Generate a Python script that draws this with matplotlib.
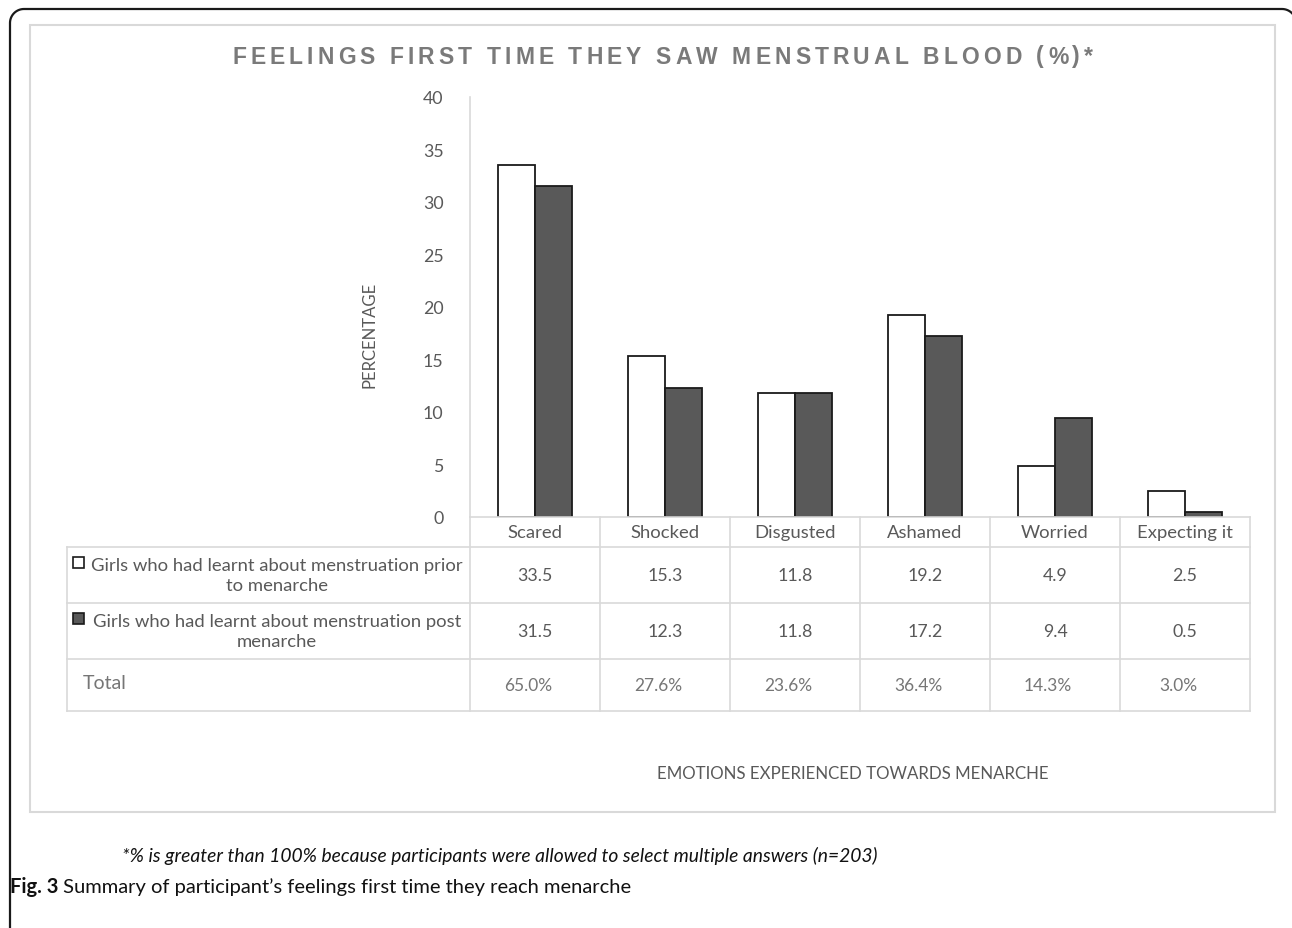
import matplotlib
matplotlib.use("Agg")
import matplotlib.pyplot as plt
import numpy as np
from matplotlib.patches import Rectangle
from matplotlib.lines import Line2D
from matplotlib.font_manager import FontProperties

# ---------------- data ----------------
categories = ["Scared", "Shocked", "Disgusted", "Ashamed", "Worried", "Expecting it"]
prior = [33.5, 15.3, 11.8, 19.2, 4.9, 2.5]
post = [31.5, 12.3, 11.8, 17.2, 9.4, 0.5]
totals = ["65.0%", "27.6%", "23.6%", "36.4%", "14.3%", "3.0%"]
series_labels = ["Girls who had learnt about menstruation prior\nto menarche",
                 "Girls who had learnt about menstruation post\nmenarche"]
yticks = [0, 5, 10, 15, 20, 25, 30, 35, 40]
title = "FEELINGS FIRST TIME THEY SAW MENSTRUAL BLOOD (%)*"
xlabel = "EMOTIONS EXPERIENCED TOWARDS MENARCHE"
ylabel = "PERCENTAGE"
footnote = "*% is greater than 100% because participants were allowed to select multiple answers (n=203)"
caption_bold = "Fig. 3"
caption = " Summary of participant\u2019s feelings first time they reach menarche"

# ---------------- figure ----------------
W, H = 1292, 929
fig = plt.figure(figsize=(W / 100, H / 100), dpi=100)
FONT = "Lato"
TXT = "#595959"
GRID = "#d9d9d9"


def fx(x):
    return x / W


def fy(y):
    return 1 - y / H


# outer frame: left side, top, and two rounded corners (open path, in pixel coords)
r = 14
left, top, right = 10, 10, 1296
t1 = np.linspace(np.pi, np.pi / 2, 20)  # top-left arc
t2 = np.linspace(np.pi / 2, 0, 20)      # top-right arc
xs = np.concatenate([[left], left + r + r * np.cos(t1), right - r + r * np.cos(t2)])
ys = np.concatenate([[H + 20], top + r - r * np.sin(t1), top + r - r * np.sin(t2)])
fig.add_artist(Line2D([fx(v) for v in xs], [fy(v) for v in ys], color="#1a1a1a", lw=1.6,
                      solid_joinstyle="round"))

# inner chart area frame
inner = Rectangle((fx(30), fy(813)), fx(1275) - fx(30), fy(26) - fy(813),
                  transform=fig.transFigure, fill=False, ec=GRID, lw=1.5)
fig.patches.append(inner)

# axes
x0, x1, ytop, ybot = 470, 1250, 98, 518
ax = fig.add_axes([fx(x0), fy(ybot), fx(x1) - fx(x0), fy(ytop) - fy(ybot)])
x = np.arange(len(categories))
bw = 0.285
ax.bar(x - bw / 2, prior, bw, color="white", edgecolor="#1a1a1a", lw=1.3, zorder=3)
ax.bar(x + bw / 2, post, bw, color="#595959", edgecolor="#1a1a1a", lw=1.3, zorder=3)
ax.set_xlim(-0.5, len(categories) - 0.5)
ax.set_ylim(0, 40)
ax.set_yticks(yticks)
ax.set_yticklabels([str(v) for v in yticks], fontsize=12.8, color=TXT, family=FONT)
ax.tick_params(axis="y", length=0, pad=19)
ax.set_xticks([])
for s in ["top", "right", "bottom"]:
    ax.spines[s].set_visible(False)
ax.spines["left"].set_color(GRID)
ax.spines["left"].set_linewidth(1.2)
ax.patch.set_alpha(0)

# ---------------- data table ----------------
rows_y = [518, 548, 604, 660, 712]
lc = GRID


def hline(xa, xb, y):
    fig.add_artist(Line2D([fx(xa), fx(xb)], [fy(y), fy(y)], color=lc, lw=1.2))


def vline(xv, ya, yb):
    fig.add_artist(Line2D([fx(xv), fx(xv)], [fy(ya), fy(yb)], color=lc, lw=1.2))


hline(x0, x1, 518)
for y in rows_y[1:]:
    hline(67, x1, y)
col_w = (x1 - x0) / len(categories)
for i in range(len(categories) + 1):
    vline(x0 + i * col_w, 518, 712)
vline(67, 548, 712)

for i, c in enumerate(categories):
    cx = x0 + (i + 0.5) * col_w
    fig.text(fx(cx), fy(533), c, ha="center", va="center", fontsize=13.3, color=TXT, family=FONT)
    fig.text(fx(cx), fy(576), f"{prior[i]:.1f}", ha="center", va="center", fontsize=12.8, color=TXT, family=FONT)
    fig.text(fx(cx), fy(632), f"{post[i]:.1f}", ha="center", va="center", fontsize=12.8, color=TXT, family=FONT)
    fig.text(fx(cx - 7), fy(686), totals[i], ha="center", va="center", fontsize=12.5, color="#767676", family=FONT)

# row headers with legend keys
for j, (lab, fc, yc) in enumerate(zip(series_labels, ["white", "#595959"], [576, 632])):
    fig.text(fx(277), fy(yc), lab, ha="center", va="center", fontsize=13.3, color=TXT,
             family=FONT, multialignment="center", linespacing=1.3)
    fig.patches.append(Rectangle((fx(73), fy(yc - 7)), fx(11), fy(0) - fy(11),
                                 transform=fig.transFigure, fc=fc, ec="#1a1a1a", lw=1.2))
fig.text(fx(83), fy(684), "Total", ha="left", va="center", fontsize=14, color="#767676", family=FONT)

# axis labels
fig.text(fx(369), fy(335), ylabel, rotation=90, ha="center", va="center", fontsize=12,
         color=TXT, family=FONT)
fig.text(fx(853), fy(774), xlabel, ha="center", va="center", fontsize=12.2, color=TXT, family=FONT)

# title with letter spacing
fig.canvas.draw()
renderer = fig.canvas.get_renderer()
tprop = FontProperties(family="Liberation Sans", weight="bold", size=16.5)
widths = []
for ch in title:
    w, h, d = renderer.get_text_width_height_descent(ch, tprop, ismath=False)
    widths.append(w)
target_left, target_right = 232, 1093
gap = (target_right - target_left - sum(widths)) / (len(title) - 1)
cur = target_left
for ch, w in zip(title, widths):
    if ch != " ":
        fig.text(fx(cur), fy(57), ch, ha="left", va="center", fontproperties=tprop, color="#7a7a7a")
    cur += w + gap

# footnote and caption
fig.text(fx(122), fy(856), footnote, ha="left", va="center", fontsize=13.9, style="italic",
         color="#111111", family=FONT)
t = fig.text(fx(10), fy(887), caption_bold, ha="left", va="center", fontsize=14.5, weight="bold",
             color="#111111", family=FONT)
fig.canvas.draw()
bb = t.get_window_extent(renderer)
fig.text(bb.x1 / W, fy(887), caption, ha="left", va="center", fontsize=14.5, color="#111111", family=FONT)

fig.savefig("out.png", dpi=100)
